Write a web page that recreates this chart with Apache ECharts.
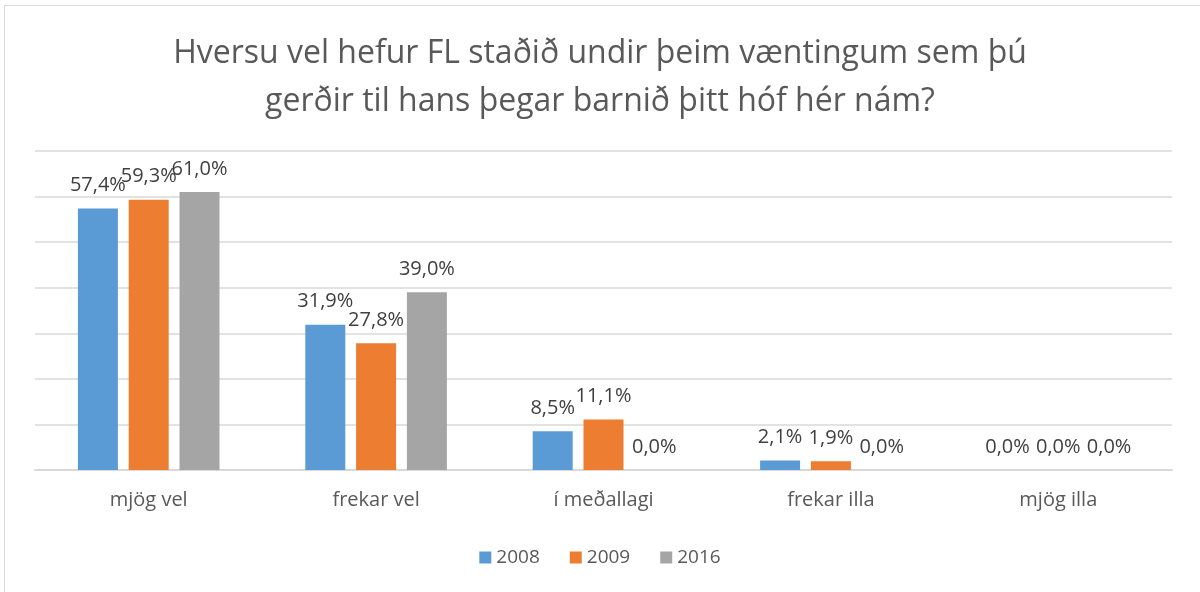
<!DOCTYPE html>
<html>
<head>
<meta charset="utf-8">
<script src="https://cdn.jsdelivr.net/npm/echarts@6/dist/echarts.min.js"></script>
<style>
  body { margin: 0; background: #fff; }
  #chart { width: 1200px; height: 592px; }
  .frame {
    position: absolute; left: 4px; top: 5px; width: 1210px; height: 600px;
    border-left: 1.5px solid #d9d9d9; border-top: 1.5px solid #d9d9d9;
    pointer-events: none;
  }
</style>
</head>
<body>
<div id="chart"></div>
<div class="frame"></div>
<script>
// flokkar og gildi (%)
const categories = ['mjög vel', 'frekar vel', 'í meðallagi', 'frekar illa', 'mjög illa']
const years = ['2008', '2009', '2016']
const values2008 = [57.4, 31.9, 8.5, 2.1, 0.0]
const values2009 = [59.3, 27.8, 11.1, 1.9, 0.0]
const values2016 = [61.0, 39.0, 0.0, 0.0, 0.0]
const colors = ['#5b9bd5', '#ed7d31', '#a5a5a5']

const font = '"Open Sans", sans-serif'
const fmt = p => p.value.toFixed(1).replace('.', ',') + '%'

const chart = echarts.init(document.getElementById('chart'))

const mkSeries = (name, data, i) => ({
  name,
  type: 'bar',
  data,
  barWidth: 40,
  barGap: '27%',
  itemStyle: { color: colors[i] },
  label: {
    show: true,
    position: 'top',
    distance: 13,
    formatter: fmt,
    color: '#404040',
    fontSize: 20,
    fontFamily: font
  }
})

chart.setOption({
  animation: false,
  title: {
    text: 'Hversu vel hefur FL staðið undir þeim væntingum sem þú\ngerðir til hans þegar barnið þitt hóf hér nám?',
    left: 'center',
    top: 25,
    textStyle: {
      fontSize: 32,
      fontWeight: 'normal',
      color: '#595959',
      fontFamily: font,
      lineHeight: 48
    }
  },
  legend: {
    data: years,
    top: 543,
    left: 'center',
    icon: 'rect',
    itemWidth: 12,
    itemHeight: 12,
    itemGap: 30,
    textStyle: { fontSize: 19, color: '#595959', fontFamily: font }
  },
  grid: { left: 35, right: 28, top: 151, bottom: 122 },
  xAxis: {
    type: 'category',
    data: categories,
    axisLine: { lineStyle: { color: '#d9d9d9', width: 2 } },
    axisTick: { show: false },
    axisLabel: { margin: 20, fontSize: 20, color: '#595959', fontFamily: font }
  },
  yAxis: {
    type: 'value',
    min: 0,
    max: 70,
    interval: 10,
    axisLabel: { show: false },
    axisLine: { show: false },
    axisTick: { show: false },
    splitLine: { lineStyle: { color: '#d9d9d9', width: 1.5 } }
  },
  series: [
    mkSeries(years[0], values2008, 0),
    mkSeries(years[1], values2009, 1),
    mkSeries(years[2], values2016, 2)
  ]
})
</script>
</body>
</html>
